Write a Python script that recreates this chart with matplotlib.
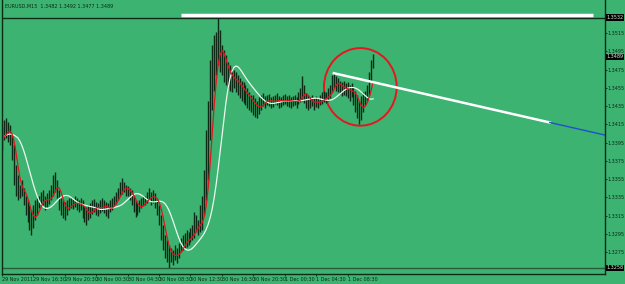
import numpy as np
import pandas as pd
import matplotlib
matplotlib.use('Agg')
import matplotlib.pyplot as plt
from matplotlib.patches import Ellipse

plt.rcParams['font.family'] = ['Liberation Sans Narrow', 'DejaVu Sans']

# EURUSD M15, bars from 29 Nov 2011 12:30
highs = [1.3411, 1.3420, 1.3422, 1.3417, 1.3414, 1.3403, 1.3392, 1.3370, 1.3359, 1.3348,
         1.3354, 1.3345, 1.3337, 1.3332, 1.3327, 1.3321, 1.3327, 1.3332, 1.3334, 1.3337,
         1.3341, 1.3343, 1.3337, 1.3340, 1.3343, 1.3348, 1.3359, 1.3363, 1.3354, 1.3343,
         1.3334, 1.3332, 1.3330, 1.3332, 1.3334, 1.3335, 1.3333, 1.3336, 1.3334, 1.3332,
         1.3334, 1.3332, 1.3327, 1.3324, 1.3327, 1.3329, 1.3332, 1.3333, 1.3330, 1.3329,
         1.3332, 1.3334, 1.3332, 1.3330, 1.3329, 1.3332, 1.3334, 1.3336, 1.3341, 1.3345,
         1.3352, 1.3356, 1.3352, 1.3348, 1.3347, 1.3345, 1.3343, 1.3337, 1.3332, 1.3329,
         1.3332, 1.3334, 1.3336, 1.3337, 1.3341, 1.3345, 1.3341, 1.3343, 1.3340, 1.3334,
         1.3327, 1.3316, 1.3305, 1.3294, 1.3288, 1.3283, 1.3279, 1.3277, 1.3283, 1.3279,
         1.3285, 1.3290, 1.3294, 1.3296, 1.3299, 1.3297, 1.3301, 1.3305, 1.3319, 1.3316,
         1.3310, 1.3327, 1.3337, 1.3365, 1.3409, 1.3441, 1.3485, 1.3502, 1.3513, 1.3516,
         1.3532, 1.3518, 1.3502, 1.3496, 1.3491, 1.3483, 1.3480, 1.3477, 1.3474, 1.3472,
         1.3469, 1.3466, 1.3463, 1.3461, 1.3458, 1.3455, 1.3450, 1.3447, 1.3447, 1.3444,
         1.3441, 1.3445, 1.3447, 1.3449, 1.3446, 1.3447, 1.3448, 1.3445, 1.3446, 1.3447,
         1.3449, 1.3446, 1.3445, 1.3447, 1.3448, 1.3446, 1.3447, 1.3445, 1.3446, 1.3447,
         1.3445, 1.3450, 1.3455, 1.3468, 1.3458, 1.3449, 1.3447, 1.3445, 1.3447, 1.3444,
         1.3446, 1.3444, 1.3447, 1.3450, 1.3452, 1.3450, 1.3455, 1.3458, 1.3469, 1.3471,
         1.3468, 1.3466, 1.3463, 1.3461, 1.3463, 1.3460, 1.3461, 1.3458, 1.3460, 1.3456,
         1.3452, 1.3447, 1.3441, 1.3446, 1.3450, 1.3452, 1.3458, 1.3472, 1.3485, 1.3492]
lows = [1.3387, 1.3398, 1.3400, 1.3396, 1.3392, 1.3376, 1.3348, 1.3337, 1.3332, 1.3334,
        1.3337, 1.3327, 1.3316, 1.3308, 1.3299, 1.3294, 1.3301, 1.3310, 1.3316, 1.3323,
        1.3325, 1.3327, 1.3321, 1.3324, 1.3328, 1.3332, 1.3337, 1.3341, 1.3334, 1.3321,
        1.3316, 1.3312, 1.3310, 1.3316, 1.3321, 1.3323, 1.3322, 1.3324, 1.3321, 1.3319,
        1.3321, 1.3312, 1.3308, 1.3305, 1.3310, 1.3312, 1.3317, 1.3319, 1.3316, 1.3314,
        1.3318, 1.3320, 1.3318, 1.3314, 1.3312, 1.3319, 1.3321, 1.3324, 1.3328, 1.3332,
        1.3336, 1.3339, 1.3341, 1.3337, 1.3336, 1.3332, 1.3327, 1.3319, 1.3313, 1.3316,
        1.3319, 1.3323, 1.3325, 1.3327, 1.3329, 1.3332, 1.3327, 1.3329, 1.3323, 1.3316,
        1.3305, 1.3288, 1.3277, 1.3268, 1.3264, 1.3258, 1.3264, 1.3261, 1.3266, 1.3263,
        1.3268, 1.3275, 1.3277, 1.3279, 1.3281, 1.3283, 1.3286, 1.3288, 1.3290, 1.3297,
        1.3294, 1.3297, 1.3299, 1.3316, 1.3332, 1.3354, 1.3398, 1.3431, 1.3452, 1.3469,
        1.3480, 1.3472, 1.3469, 1.3461, 1.3458, 1.3455, 1.3452, 1.3450, 1.3455, 1.3450,
        1.3447, 1.3444, 1.3441, 1.3438, 1.3436, 1.3433, 1.3431, 1.3428, 1.3425, 1.3423,
        1.3422, 1.3426, 1.3431, 1.3435, 1.3433, 1.3436, 1.3435, 1.3433, 1.3434, 1.3437,
        1.3436, 1.3433, 1.3434, 1.3436, 1.3437, 1.3435, 1.3434, 1.3433, 1.3435, 1.3436,
        1.3433, 1.3437, 1.3439, 1.3441, 1.3438, 1.3433, 1.3431, 1.3433, 1.3435, 1.3431,
        1.3434, 1.3433, 1.3436, 1.3437, 1.3439, 1.3438, 1.3441, 1.3444, 1.3450, 1.3455,
        1.3452, 1.3450, 1.3448, 1.3446, 1.3447, 1.3446, 1.3444, 1.3441, 1.3445, 1.3436,
        1.3428, 1.3422, 1.3415, 1.3420, 1.3428, 1.3436, 1.3441, 1.3447, 1.3463, 1.3477]

time_labels = ['29 Nov 2011', '29 Nov 16:30', '29 Nov 20:30', '30 Nov 00:30', '30 Nov 04:30',
               '30 Nov 08:30', '30 Nov 12:30', '30 Nov 16:30', '30 Nov 20:30', '1 Dec 00:30',
               '1 Dec 04:30', '1 Dec 08:30']
price_ticks = [1.3515, 1.3495, 1.3475, 1.3455, 1.3435, 1.3415, 1.3395, 1.3375,
               1.3355, 1.3335, 1.3315, 1.3295, 1.3275]

day_high = 1.3532
day_low = 1.3258
last_price = 1.3489
top_level = 1.35348
top_level_bars = [91, 301]
trend_bars = [169, 279]
trend_prices = [1.3471, 1.3417]
circle_bar = 182.5
circle_price = 1.3456

bg = '#3cb371'
dark = '#0c2a16'
fs = 3.5

bars = np.arange(len(highs))
median = (pd.Series(highs) + pd.Series(lows)) / 2
fast_ma = median.rolling(3, min_periods=1).mean().rolling(3, min_periods=1).mean()
slow_ma = median.rolling(8, min_periods=1).mean().rolling(8, min_periods=1).mean()

fig = plt.figure(figsize=(6.25, 2.84), dpi=100, facecolor=bg)
ax = fig.add_axes([2 / 625, 10 / 284, 603 / 625, 274 / 284])
ax.set_facecolor(bg)

ax.vlines(bars, lows, highs, color=dark, linewidth=1.0)
ax.plot(bars, slow_ma, color='#eef7ee', linewidth=0.9)
ax.plot(bars, fast_ma, color='#e3141c', linewidth=0.9)

# high / low lines
ax.axhline(day_high, color=dark, linewidth=1.0)
ax.axhline(day_low, color='#2a5a3a', linewidth=1.0)
ax.hlines(top_level, top_level_bars[0], top_level_bars[1], color='white', linewidth=2.5)

# trend line + ray
ax.plot(trend_bars, trend_prices, color='white', linewidth=1.8)
slope = (trend_prices[1] - trend_prices[0]) / (trend_bars[1] - trend_bars[0])
x_end = 308
ax.plot([trend_bars[1], x_end], [trend_prices[1], trend_prices[1] + slope * (x_end - trend_bars[1])],
        color='#1f4fd0', linewidth=1.0)

ax.add_patch(Ellipse((circle_bar, circle_price), 37, 0.0085, fill=False,
                     edgecolor='#e8141e', linewidth=1.4))

ax.set_xlim(0.5, 307.1)
ax.set_ylim(1.3251, 1.35512)

ax.yaxis.tick_right()
ax.set_yticks(price_ticks)
ax.set_yticklabels([f'{p:.4f}' for p in price_ticks])
ax.tick_params(axis='y', direction='out', length=1.5, width=0.6, color=dark,
               labelsize=fs, labelcolor=dark, pad=0.6)

ax.set_xticks(np.arange(len(time_labels)) * 16)
ax.set_xticklabels(time_labels)
for lbl in ax.get_xticklabels():
    lbl.set_ha('left')
ax.tick_params(axis='x', direction='out', length=1.5, width=0.6, color=dark,
               labelsize=fs, labelcolor=dark, pad=0.4)

for side in ['left', 'right', 'bottom']:
    ax.spines[side].set_color(dark)
    ax.spines[side].set_linewidth(1.0)
ax.spines['top'].set_visible(False)

# price boxes on the right scale
for p in [day_high, last_price, day_low]:
    ax.annotate(f'{p:.4f}', xy=(1.002, p), xycoords=('axes fraction', 'data'),
                fontsize=fs, color='#d8ecd8', va='center', ha='left',
                bbox=dict(boxstyle='square,pad=0.12', fc='black', ec='none'))

ax.text(0.005, 0.985, 'EURUSD,M15  1.3482 1.3492 1.3477 1.3489', transform=ax.transAxes,
        fontsize=fs, color=dark, va='top', ha='left')

fig.savefig('out.png', dpi=100, facecolor=bg)
